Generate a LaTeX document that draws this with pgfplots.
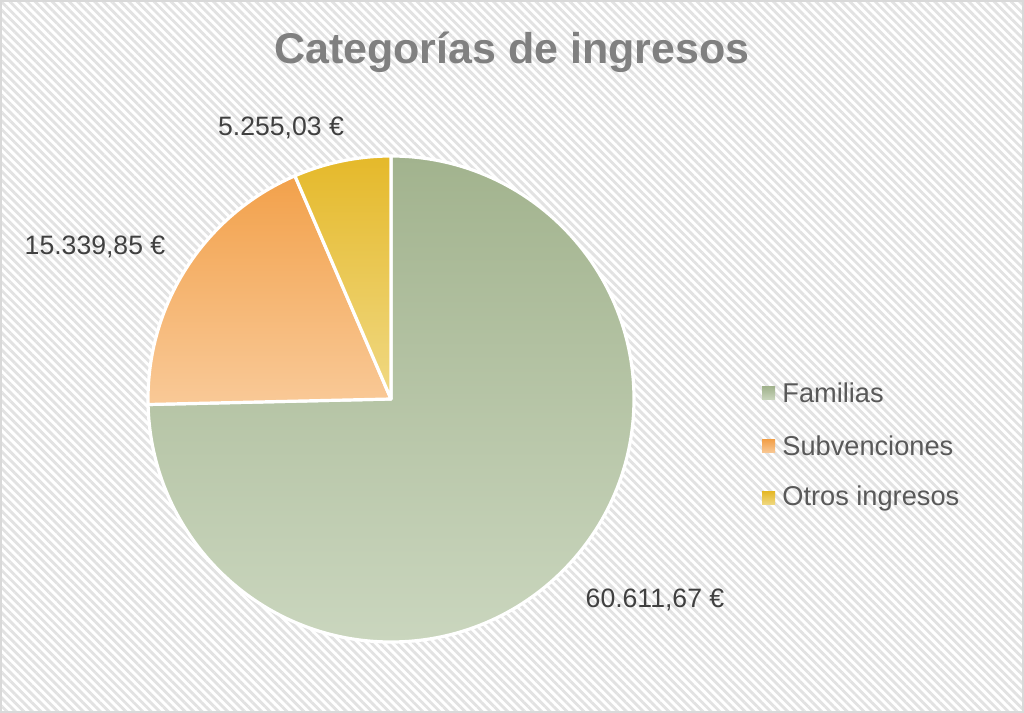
\documentclass[border=0pt]{standalone}
\usepackage{pgfplots}
\pgfplotsset{compat=1.18}
\usepackage{pgfplotstable}
\usepackage{fontspec}
\setmainfont{Liberation Sans}
\usetikzlibrary{patterns.meta}
\definecolor{famtop}{HTML}{A2B38E}
\definecolor{fambot}{HTML}{CAD6BE}
\definecolor{subtop}{HTML}{F2A14B}
\definecolor{subbot}{HTML}{F9C997}
\definecolor{otrtop}{HTML}{E5B92A}
\definecolor{otrbot}{HTML}{F0D984}
\definecolor{titlegray}{HTML}{808080}
\definecolor{labgray}{HTML}{404040}
\definecolor{leggray}{HTML}{595959}
\definecolor{hatch}{HTML}{E2E2E2}
\definecolor{frame}{HTML}{D9D9D9}

\pgfplotstableread{
cat value
Familias 60611.67
Subvenciones 15339.85
Otros 5255.03
}\datatable

\begin{document}%
\begin{tikzpicture}
\pgfplotstablegetelem{0}{value}\of\datatable \edef\vA{\pgfplotsretval}
\pgfplotstablegetelem{1}{value}\of\datatable \edef\vB{\pgfplotsretval}
\pgfplotstablegetelem{2}{value}\of\datatable \edef\vC{\pgfplotsretval}
\pgfkeys{/pgf/fpu=true,/pgf/fpu/output format=fixed}
\pgfmathsetmacro\tot{\vA+\vB+\vC}
\pgfmathsetmacro\eA{90-360*\vA/\tot}
\pgfmathsetmacro\eB{\eA-360*\vB/\tot}
\pgfkeys{/pgf/fpu=false}
\begin{axis}[
  x=0.5pt, y=0.5pt,
  xmin=0, xmax=1024, ymin=0, ymax=713,
  hide axis, clip=false,
]
\coordinate (ll) at (axis cs:0,0);
\coordinate (ur) at (axis cs:1024,713);
% background
\fill[white] (axis cs:0,0) rectangle (axis cs:1024,713);
\fill[pattern={Lines[angle=-45,distance=3pt,line width=1.4pt]}, pattern color=hatch]
  (axis cs:0,0) rectangle (axis cs:1024,713);
\draw[frame, line width=1pt] (axis cs:1,1) rectangle (axis cs:1023,712);
% title
\node[font=\fontsize{21.5}{24}\selectfont\bfseries, text=titlegray] at (axis cs:512,661) {Categorías de ingresos};
% pie slices
\path[top color=famtop, bottom color=fambot, draw=white, line width=1.6pt, line join=round]
  (axis cs:391,314) -- ++(90:121.5pt) arc[start angle=90, end angle=\eA, radius=121.5pt] -- cycle;
\path[top color=subtop, bottom color=subbot, draw=white, line width=1.6pt, line join=round]
  (axis cs:391,314) -- ++(\eA:121.5pt) arc[start angle=\eA, end angle=\eB, radius=121.5pt] -- cycle;
\path[top color=otrtop, bottom color=otrbot, draw=white, line width=1.6pt, line join=round]
  (axis cs:391,314) -- ++(\eB:121.5pt) arc[start angle=\eB, end angle=-270, radius=121.5pt] -- cycle;
% data labels
\node[font=\fontsize{13.3}{15}\selectfont, text=labgray] at (axis cs:655,113) {60.611,67 €};
\node[font=\fontsize{13.3}{15}\selectfont, text=labgray] at (axis cs:95,466) {15.339,85 €};
\node[font=\fontsize{13.3}{15}\selectfont, text=labgray] at (axis cs:281,585) {5.255,03 €};
% legend
\path[top color=famtop, bottom color=fambot] (axis cs:762,313) rectangle (axis cs:775,326);
\path[top color=subtop, bottom color=subbot] (axis cs:762,260) rectangle (axis cs:775,273);
\path[top color=otrtop, bottom color=otrbot] (axis cs:762,208) rectangle (axis cs:775,221);
\node[anchor=west, font=\fontsize{13.6}{15}\selectfont, text=leggray, inner sep=0pt] at (axis cs:782,320) {Familias};
\node[anchor=west, font=\fontsize{13.6}{15}\selectfont, text=leggray, inner sep=0pt] at (axis cs:782,267) {Subvenciones};
\node[anchor=west, font=\fontsize{13.6}{15}\selectfont, text=leggray, inner sep=0pt] at (axis cs:782,215) {Otros ingresos};
\end{axis}
\pgfresetboundingbox
\path (ll) rectangle (ur);
\end{tikzpicture}%
\end{document}
